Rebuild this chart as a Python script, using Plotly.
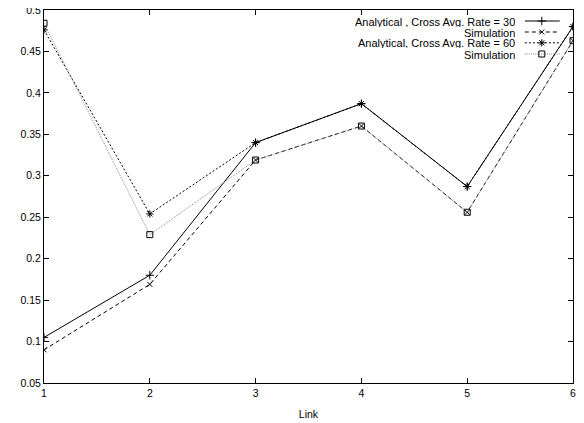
import plotly.graph_objects as go

links = [1, 2, 3, 4, 5, 6]
analytical_30 = [0.105, 0.180, 0.340, 0.387, 0.287, 0.480]
simulation_30 = [0.090, 0.169, 0.319, 0.360, 0.256, 0.463]
analytical_60 = [0.476, 0.254, 0.340, 0.387, 0.287, 0.480]
simulation_60 = [0.484, 0.229, 0.319, 0.360, 0.256, 0.463]

names = ["Analytical , Cross Avg. Rate = 30", "Simulation",
         "Analytical, Cross Avg. Rate = 60", "Simulation"]
series = [analytical_30, simulation_30, analytical_60, simulation_60]
colors = ["black", "black", "black", "#8c8c8c"]
dashes = ["solid", "4px,3px", "2px,2px", "1px,1px"]
symbols = ["cross-thin-open", "x-thin-open", "asterisk-open", "square-open"]
msizes = [6, 5, 6, 6]
mcolors = ["black", "black", "black", "black"]

fig = go.Figure()
for ys, nm, c, d, s, ms, mc in zip(series, names, colors, dashes, symbols, msizes, mcolors):
    fig.add_trace(go.Scatter(
        x=links, y=ys, mode="lines+markers", name=nm, showlegend=False,
        line=dict(color=c, width=1, dash=d),
        marker=dict(symbol=s, size=ms, color=mc, line=dict(color=mc, width=1)),
    ))

# custom gnuplot-style legend (text right-aligned, sample on the right)
rows = [0.9705, 0.941, 0.912, 0.882]
x_text = 0.895
x0, x1, xm = 0.909, 0.975, 0.941
for r, nm, c, d, s, ms, mc in zip(rows, names, colors, dashes, symbols, msizes, mcolors):
    fig.add_annotation(x=x_text, y=r, xref="paper", yref="paper", text=nm,
                       showarrow=False, xanchor="right", yanchor="middle",
                       height=11, font=dict(size=11, color="black"))
    fig.add_trace(go.Scatter(
        x=[x0, xm, x1], y=[r, r, r], xaxis="x2", yaxis="y2",
        mode="lines", showlegend=False, hoverinfo="skip",
        line=dict(color=c, width=1, dash=d)))
    fig.add_trace(go.Scatter(
        x=[xm], y=[r], xaxis="x2", yaxis="y2",
        mode="markers", showlegend=False, hoverinfo="skip",
        marker=dict(symbol=s, size=ms, color=mc, line=dict(color=mc, width=1))))

axis_common = dict(showgrid=False, zeroline=False, showline=True, linecolor="black",
                   linewidth=1, mirror="ticks", ticks="inside", ticklen=5,
                   tickcolor="black", tickfont=dict(size=10.5, color="black"),
                   ticklabeloverflow="allow", automargin=False)

# the page body adds an 8px offset, so the figure is 8px smaller than the window
fig.update_layout(
    template="none",
    width=576, height=415,
    margin=dict(l=36, r=11, t=2, b=40),
    paper_bgcolor="white", plot_bgcolor="white",
    font=dict(family="Liberation Sans, Arial, sans-serif", size=10.5, color="black"),
    xaxis=dict(range=[1, 6], dtick=1, tick0=1,
               title=dict(text="Link", standoff=13,
                          font=dict(size=10.5, color="black")),
               **axis_common),
    yaxis=dict(range=[0.05, 0.5], dtick=0.05, tick0=0.05, tickformat="~g",
               **axis_common),
    xaxis2=dict(range=[0, 1], overlaying="x", visible=False, fixedrange=True),
    yaxis2=dict(range=[0, 1], overlaying="y", visible=False, fixedrange=True),
    showlegend=False,
)

# let the top tick label ("0.5") draw into the page margin instead of being clipped
fig.write_html(
    "out.html",
    config={"displayModeBar": False},
    post_script="document.querySelectorAll('svg.main-svg').forEach(function(s){s.style.overflow='visible';});",
)
